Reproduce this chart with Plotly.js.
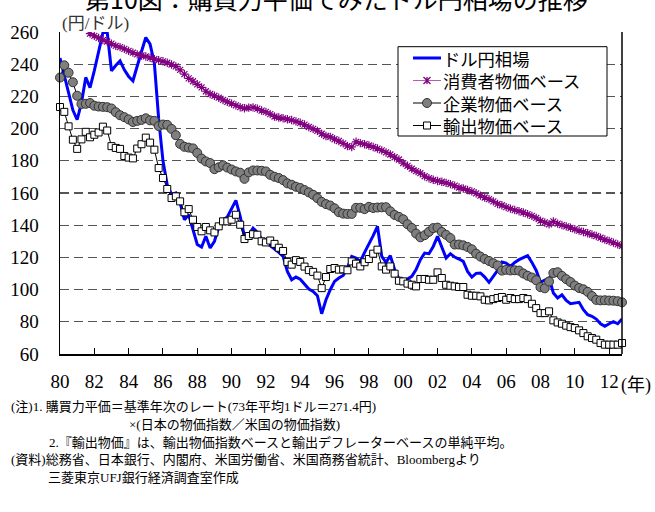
<!DOCTYPE html>
<html>
<head>
<meta charset="utf-8">
<script src="https://cdn.plot.ly/plotly-3.0.1.min.js"></script>
<style>
  html, body { margin: 0; padding: 0; background: #ffffff; }
  #chart { width: 655px; height: 512px; }
</style>
</head>
<body>
<div id="chart"></div>
<script>
// Quarterly series, 1980Q1 - 2012Q4, yen per dollar
const startYear = 1980;

const usdJpy = [
  243.8, 233.0, 221.0, 211.5,   205.5, 216.0, 231.8, 225.5,
  236.0, 248.0, 259.5, 260.0,   235.9, 239.2, 242.1, 236.5,
  232.4, 229.7, 239.7, 247.9,   256.6, 252.5, 240.5, 206.0,
  180.0, 165.0, 159.0, 160.0,   153.8, 143.4, 146.5, 138.0,
  128.0, 126.4, 133.1, 125.8,   130.0, 138.9, 143.4, 145.1,
  150.7, 155.4, 145.5, 133.0,   134.1, 138.2, 135.6, 131.4,
  129.3, 127.3, 125.2, 123.1,   120.6, 111.3, 106.1, 107.8,
  106.5, 103.7, 100.4, 98.9,    96.2, 85.0, 93.7, 99.9,
  105.1, 107.2, 108.8, 113.4,   120.6, 119.6, 117.5, 123.1,
  127.9, 133.5, 139.3, 120.6,   116.9, 121.1, 112.4, 106.6,
  106.1, 106.6, 108.2, 112.4,   118.6, 122.7, 122.3, 126.8,
  133.1, 126.8, 119.6, 122.3,   120.2, 119.0, 117.5, 111.3,
  107.8, 110.1, 110.3, 107.8,   104.5, 108.2, 111.9, 117.1,
  116.5, 114.4, 116.9, 118.6,   120.0, 121.1, 116.9, 111.9,
  104.5, 106.1, 107.2, 97.9,    94.8, 96.8, 93.3, 91.2,
  91.6, 92.1, 87.5, 84.4,       83.4, 81.7, 78.8, 77.2,
  78.8, 80.1, 78.8, 81.7
];

const cpiBase = [
  null, null, null, null,       null, null, 260.5, 259.0,
  257.6, 256.3, 255.0, 254.1,   252.8, 251.4, 250.6, 249.5,
  248.3, 247.2, 246.1, 245.4,   244.8, 244.0, 243.1, 242.5,
  241.8, 240.9, 239.8, 238.6,   236.5, 233.8, 231.2, 229.4,
  227.5, 225.6, 223.2, 221.5,   220.4, 219.2, 217.8, 216.6,
  215.5, 214.4, 213.3, 212.6,   213.0, 213.2, 212.4, 211.2,
  210.4, 209.0, 207.5, 206.9,   206.4, 205.8, 205.3, 204.5,
  203.6, 202.5, 201.0, 199.8,   198.6, 196.8, 195.4, 194.8,
  193.4, 192.3, 190.8, 189.2,   188.6, 191.8, 191.0, 190.3,
  189.5, 188.6, 187.6, 186.5,   185.2, 183.9, 182.2, 180.8,
  178.6, 176.9, 175.1, 173.6,   172.3, 170.4, 169.2, 168.2,
  167.5, 167.0, 166.3, 165.5,   164.6, 163.4, 162.8, 161.9,
  161.0, 159.8, 158.4, 157.2,   156.2, 154.8, 153.2, 152.4,
  151.2, 150.3, 149.4, 148.7,   147.9, 146.9, 145.8, 144.5,
  142.8, 141.7, 140.6, 142.4,   141.0, 140.1, 139.3, 138.4,
  137.5, 136.6, 135.8, 135.0,   134.2, 133.3, 132.2, 131.1,
  130.2, 129.2, 128.1, 127.2
];

const cgpiBase = [
  231.7, 239.3, 234.7, 228.8,   220.4, 215.3, 215.4, 215.9,
  214.2, 213.7, 213.5, 213.3,   212.5, 210.2, 208.3, 207.1,
  205.7, 204.1, 204.8, 205.4,   206.4, 205.1, 204.8, 201.6,
  202.5, 202.3, 199.8, 195.9,   190.5, 188.7, 188.2, 187.7,
  184.9, 181.4, 179.6, 178.6,   174.8, 176.0, 177.2, 175.8,
  174.6, 173.4, 172.6, 168.8,   172.8, 174.0, 174.0, 173.8,
  173.4, 171.3, 170.1, 169.3,   168.0, 166.0, 165.1, 163.9,
  163.1, 161.8, 160.4, 158.9,   156.8, 154.5, 153.1, 152.2,
  150.5, 148.1, 147.2, 147.0,   147.0, 150.8, 150.8, 150.0,
  151.4, 150.7, 151.0, 151.1,   151.2, 148.6, 146.4, 145.2,
  143.7, 140.6, 138.3, 134.8,   132.5, 133.8, 135.9, 138.2,
  138.5, 135.8, 134.0, 132.0,   128.0, 128.0, 127.5, 126.5,
  125.0, 122.3, 120.5, 119.0,   117.8, 116.4, 115.0, 111.8,
  112.3, 111.9, 112.0, 111.8,   110.0, 108.6, 107.5, 105.8,
  101.5, 100.8, 105.0, 110.3,   110.8, 108.5, 106.5, 104.7,
  102.5, 101.0, 100.2, 98.6,    96.0, 93.6, 93.3, 93.4,
  93.2, 93.1, 92.8, 92.1
];

const exportBase = [
  213.4, 210.4, 201.4, 193.1,   187.4, 193.3, 198.0, 194.6,
  196.2, 197.6, 201.2, 198.8,   189.1, 188.0, 187.4, 183.0,
  182.0, 181.5, 187.6, 190.3,   194.4, 191.3, 186.9, 175.5,
  169.3, 162.5, 156.9, 157.9,   154.8, 148.0, 150.0, 143.4,
  138.9, 136.2, 138.9, 136.8,   135.5, 139.3, 142.4, 142.4,
  143.4, 146.5, 140.3, 131.4,   133.3, 134.4, 134.1, 130.0,
  129.3, 130.5, 128.4, 126.0,   124.0, 117.2, 115.5, 118.3,
  117.2, 114.3, 112.1, 111.0,   108.7, 100.9, 107.8, 112.8,
  113.4, 112.4, 112.6, 112.0,   117.5, 116.1, 114.4, 117.0,
  119.0, 122.3, 124.8, 114.4,   112.4, 114.4, 109.9, 105.5,
  105.1, 103.7, 103.0, 102.0,   106.6, 106.6, 106.1, 106.1,
  110.7, 107.2, 103.0, 102.4,   102.0, 101.6, 101.6, 96.8,
  96.2, 96.2, 95.8, 93.7,       93.3, 94.1, 94.8, 95.4,
  93.7, 94.8, 94.1, 94.1,       94.8, 94.1, 91.2, 88.5,
  85.4, 85.4, 86.5, 80.9,       79.6, 78.8, 77.6, 76.7,
  76.1, 74.7, 73.0, 71.0,       69.9, 68.9, 66.8, 65.8,
  65.8, 65.8, 65.8, 66.8
];

const seriesNames = ['ドル円相場', '消費者物価ベース', '企業物価ベース', '輸出物価ベース'];

const tickYears = [1980, 1982, 1984, 1986, 1988, 1990, 1992, 1994, 1996,
                   1998, 2000, 2002, 2004, 2006, 2008, 2010, 2012];
const tickText  = ['80', '82', '84', '86', '88', '90', '92', '94', '96',
                   '98', '00', '02', '04', '06', '08', '10', '12'];
const yTicks = [60, 80, 100, 120, 140, 160, 180, 200, 220, 240, 260];

const titleText = '第10図：購買力平価でみたドル円相場の推移';
const unitText = '(円/ドル)';
const yearText = '(年)';
const noteLines = [
  '(注)1. 購買力平価＝基準年次のレート(73年平均1ドル＝271.4円)',
  '×(日本の物価指数／米国の物価指数)',
  '2.『輸出物価』は、輸出物価指数ベースと輸出デフレーターベースの単純平均。',
  '(資料)総務省、日本銀行、内閣府、米国労働省、米国商務省統計、Bloombergより',
  '三菱東京UFJ銀行経済調査室作成'
];

// ---- styling ----
const colors = {
  usd: '#0000ff',
  cpiLine: '#b45cb4', cpiMark: '#800080',
  cgpiFill: '#7f7f7f', cgpiEdge: '#333333',
  exportFill: '#ffffff', exportEdge: '#000000'
};
const serifTicks = 'Liberation Serif';
const serif = 'Liberation Serif, Noto Sans CJK JP, serif';
const sansJP = 'Noto Sans CJK JP, sans-serif';

// ---- geometry helpers (pixel -> paper coordinates) ----
const W = 655, H = 512;
const M = { l: 60, r: 33, t: 32, b: 158 };
const PW = W - M.l - M.r, PH = H - M.t - M.b;
const px = x => (x - M.l) / PW;
const py = y => (H - M.b - y) / PH;

const quarters = usdJpy.map((_, i) => startYear + i / 4);

const traces = [
  {
    x: quarters, y: usdJpy, name: seriesNames[0], type: 'scatter', mode: 'lines',
    line: { color: colors.usd, width: 3 }
  },
  {
    x: quarters, y: cpiBase, name: seriesNames[1], type: 'scatter', mode: 'lines+markers',
    line: { color: colors.cpiLine, width: 1 },
    marker: { symbol: 'asterisk-open', size: 7, color: colors.cpiMark,
              line: { color: colors.cpiMark, width: 1.2 } }
  },
  {
    x: quarters, y: cgpiBase, name: seriesNames[2], type: 'scatter', mode: 'lines+markers',
    cliponaxis: false,
    line: { color: '#000000', width: 1 },
    marker: { symbol: 'circle', size: 9, color: colors.cgpiFill,
              line: { color: colors.cgpiEdge, width: 1 } }
  },
  {
    x: quarters, y: exportBase, name: seriesNames[3], type: 'scatter', mode: 'lines+markers',
    cliponaxis: false,
    line: { color: '#000000', width: 1 },
    marker: { symbol: 'square', size: 7, color: colors.exportFill,
              line: { color: colors.exportEdge, width: 1 } }
  }
];

// ---- legend box, drawn with shapes and one multi-line annotation ----
const legBox = { x0: 398, x1: 607, y0: 46.7, y1: 136 };
const legRows = [58, 80.5, 103, 125.5];
const legSym = { x0: 413, x1: 441, xc: 427 };
const legTextX = 442;

const shapes = [
  // right frame line
  { type: 'line', xref: 'paper', yref: 'paper', x0: 1, x1: 1, y0: 0, y1: 1,
    line: { color: '#000000', width: 1.5 } },
  // legend frame
  { type: 'rect', xref: 'paper', yref: 'paper',
    x0: px(legBox.x0), x1: px(legBox.x1), y0: py(legBox.y1), y1: py(legBox.y0),
    fillcolor: '#ffffff', line: { color: '#000000', width: 1 } }
];
const legLine = (row, color, width) => ({
  type: 'line', xref: 'paper', yref: 'paper',
  x0: px(legSym.x0), x1: px(legSym.x1), y0: py(row), y1: py(row),
  line: { color: color, width: width }
});
shapes.push(legLine(legRows[0], colors.usd, 3));
shapes.push(legLine(legRows[1], colors.cpiLine, 1));
shapes.push(legLine(legRows[2], '#000000', 1));
shapes.push(legLine(legRows[3], '#000000', 1));
// asterisk marker
(function () {
  const c = legSym.xc, r = legRows[1], s = 3.5;
  const P = (x, y) => px(x) + ',' + py(y);
  shapes.push({
    type: 'path', xref: 'paper', yref: 'paper',
    path: 'M' + P(c - s, r - s) + 'L' + P(c + s, r + s) +
          'M' + P(c - s, r + s) + 'L' + P(c + s, r - s) +
          'M' + P(c, r - s) + 'L' + P(c, r + s),
    line: { color: colors.cpiMark, width: 1.3 }
  });
})();
// circle marker
shapes.push({
  type: 'circle', xref: 'paper', yref: 'paper',
  x0: px(legSym.xc - 4.5), x1: px(legSym.xc + 4.5),
  y0: py(legRows[2] + 4.5), y1: py(legRows[2] - 4.5),
  fillcolor: colors.cgpiFill, line: { color: colors.cgpiEdge, width: 1 }
});
// square marker
shapes.push({
  type: 'rect', xref: 'paper', yref: 'paper',
  x0: px(legSym.xc - 3.5), x1: px(legSym.xc + 3.5),
  y0: py(legRows[3] + 3.5), y1: py(legRows[3] - 3.5),
  fillcolor: colors.exportFill, line: { color: colors.exportEdge, width: 1 }
});

const noteX = [10, 128, 48, 10, 47];
const noteY = [406, 424, 442, 459.5, 477.5];

const annotations = [
  { text: titleText, xref: 'paper', yref: 'paper', x: px(336), y: py(-2),
    xanchor: 'center', yanchor: 'middle', showarrow: false,
    font: { family: sansJP, size: 25, color: '#000000' } },
  { text: unitText, xref: 'paper', yref: 'paper', x: px(60), y: py(23),
    xanchor: 'left', yanchor: 'middle', showarrow: false,
    font: { family: serif, size: 17, color: '#333333' } },
  { text: yearText, xref: 'paper', yref: 'paper', x: px(619), y: py(385),
    xanchor: 'left', yanchor: 'middle', showarrow: false,
    font: { family: serif, size: 18, color: '#000000' } },
  { text: seriesNames.join('<br>'), xref: 'paper', yref: 'paper',
    x: px(legTextX), y: py((legRows[0] + legRows[3]) / 2),
    xanchor: 'left', yanchor: 'middle', align: 'left', showarrow: false, borderpad: 0,
    font: { family: sansJP, size: 17.3, color: '#000000' } }
].concat(noteLines.map((t, i) => ({
  text: t, xref: 'paper', yref: 'paper', x: px(noteX[i]), y: py(noteY[i]),
  xanchor: 'left', yanchor: 'middle', showarrow: false, borderpad: 0,
  font: { family: serif, size: 13, color: '#000000' }
})));

const layout = {
  width: W, height: H,
  margin: M,
  paper_bgcolor: '#ffffff', plot_bgcolor: '#ffffff',
  showlegend: false,
  xaxis: {
    range: [startYear, 2012.75], tickmode: 'array', tickvals: tickYears, ticktext: tickText,
    showgrid: false, zeroline: false,
    showline: true, linecolor: '#000000', linewidth: 1.5,
    ticks: 'inside', ticklen: 6, tickcolor: '#000000', tickwidth: 1,
    ticklabelstandoff: 10,
    tickfont: { family: serifTicks, size: 19, color: '#000000', weight: 'normal' }
  },
  yaxis: {
    range: [60, 260], tickmode: 'array', tickvals: yTicks,
    showgrid: true, gridcolor: '#555555', gridwidth: 1.3, griddash: '9px,5px',
    zeroline: false,
    showline: true, linecolor: '#000000', linewidth: 1.5,
    ticks: '', ticklabelstandoff: 16,
    tickfont: { family: serifTicks, size: 19, color: '#000000', weight: 'normal' }
  },
  shapes: shapes,
  annotations: annotations
};

Plotly.newPlot('chart', traces, layout, { staticPlot: true, displayModeBar: false });
</script>
</body>
</html>
